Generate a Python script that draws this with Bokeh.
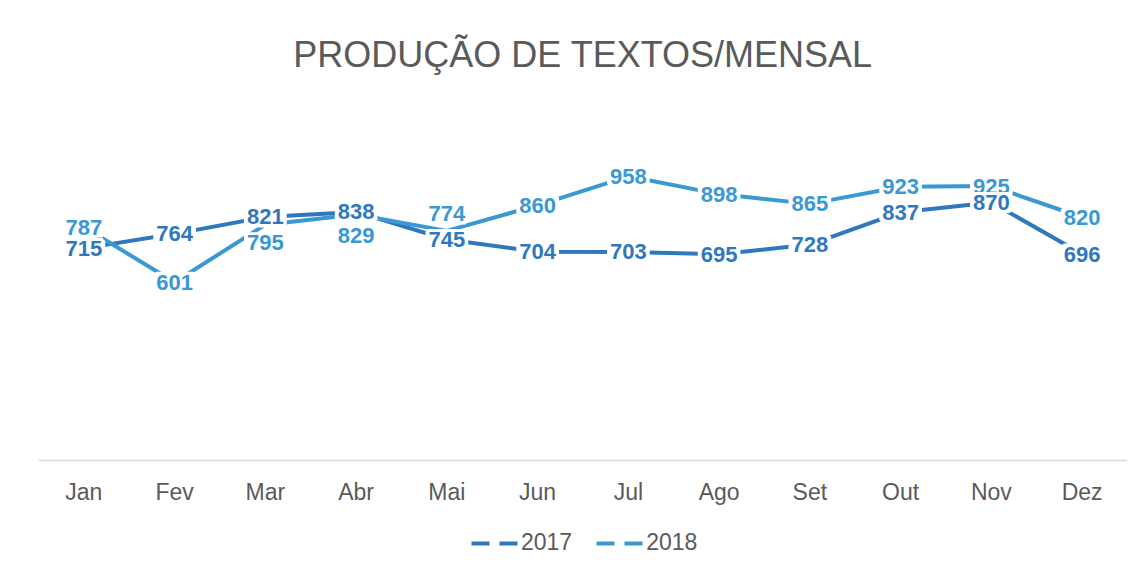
from bokeh.plotting import figure
from bokeh.layouts import column
from bokeh.models import (ColumnDataSource, FactorRange, Range1d, LabelSet,
                          Legend, LegendItem)
from bokeh.core.properties import value
from bokeh.embed import file_html
from bokeh.resources import INLINE

meses = ["Jan", "Fev", "Mar", "Abr", "Mai", "Jun", "Jul", "Ago", "Set", "Out", "Nov", "Dez"]
v2017 = [715, 764, 821, 838, 745, 704, 703, 695, 728, 837, 870, 696]
v2018 = [787, 601, 795, 829, 774, 860, 958, 898, 865, 923, 925, 820]

# label nudges (screen px) as in the original chart
off2017 = [0] * 12
off2018 = [0, 0, -18, -21, 17, 0, 0, 0, 0, 0, 0, 0]

C2017 = "#3078BE"
C2018 = "#3A98D2"
GREY = "#5a5a5a"
FONT = "Liberation Sans"

s17 = ColumnDataSource(dict(x=meses, y=v2017, t=[str(v) for v in v2017], o=off2017))
s18 = ColumnDataSource(dict(x=meses, y=v2018, t=[str(v) for v in v2018], o=off2018))

p = figure(width=1127, height=516, x_range=FactorRange(*meses),
           y_range=Range1d(0, 1200), output_backend="svg",
           toolbar_location=None, min_border_left=38, min_border_right=0,
           min_border_top=104, min_border_bottom=56)

p.title.text = "PRODUÇÃO DE TEXTOS/MENSAL"
p.title.align = "center"
p.title.text_font = FONT
p.title.text_font_size = "36px"
p.title.text_font_style = "normal"
p.title.text_color = GREY
p.title.standoff = 60

p.outline_line_color = None
p.xgrid.visible = False
p.ygrid.visible = False
p.yaxis.visible = False
p.xaxis.axis_line_color = "#d9d9d9"
p.xaxis.axis_line_width = 1.5
p.xaxis.major_tick_line_color = None
p.xaxis.minor_tick_line_color = None
p.xaxis.major_label_text_font = FONT
p.xaxis.major_label_text_font_size = "23px"
p.xaxis.major_label_text_color = GREY
p.xaxis.major_label_standoff = 12
p.x_range.range_padding = 0

p.line("x", "y", source=s17, line_color=C2017, line_width=4)
p.line("x", "y", source=s18, line_color=C2018, line_width=4)

for src, col in ((s18, C2018), (s17, C2017)):
    lab = LabelSet(x="x", y="y", text="t", source=src, y_offset="o",
                   text_align="center", text_baseline="middle",
                   text_font=value(FONT), text_font_size=value("22px"),
                   text_font_style=value("bold"), text_color=col,
                   background_fill_color="white",
                   border_line_color="white", border_line_width=6)
    p.add_layout(lab)

# legend strip below the chart
lg = figure(width=1127, height=40, x_range=Range1d(0, 1), y_range=Range1d(0, 1),
            output_backend="svg", toolbar_location=None,
            min_border_left=0, min_border_right=0, min_border_top=0,
            min_border_bottom=0)
lg.outline_line_color = None
lg.xaxis.visible = False
lg.yaxis.visible = False
lg.xgrid.visible = False
lg.ygrid.visible = False
g17 = lg.line(x=[-5, -4], y=[-5, -5], line_color=C2017, line_width=4, line_dash="18 10")
g18 = lg.line(x=[-5, -4], y=[-5, -5], line_color=C2018, line_width=4, line_dash="18 10")
legend = Legend(items=[LegendItem(label="2017", renderers=[g17]),
                       LegendItem(label="2018", renderers=[g18])],
                orientation="horizontal", location=(433, 0),
                label_text_font=FONT, label_text_font_size="23px",
                label_text_color=GREY, glyph_width=48, glyph_height=22,
                label_standoff=2, spacing=24, border_line_color=None,
                background_fill_alpha=0, margin=0, padding=0)
lg.add_layout(legend)

layout = column(p, lg, spacing=0)
open("out.html", "w").write(file_html(layout, INLINE))
